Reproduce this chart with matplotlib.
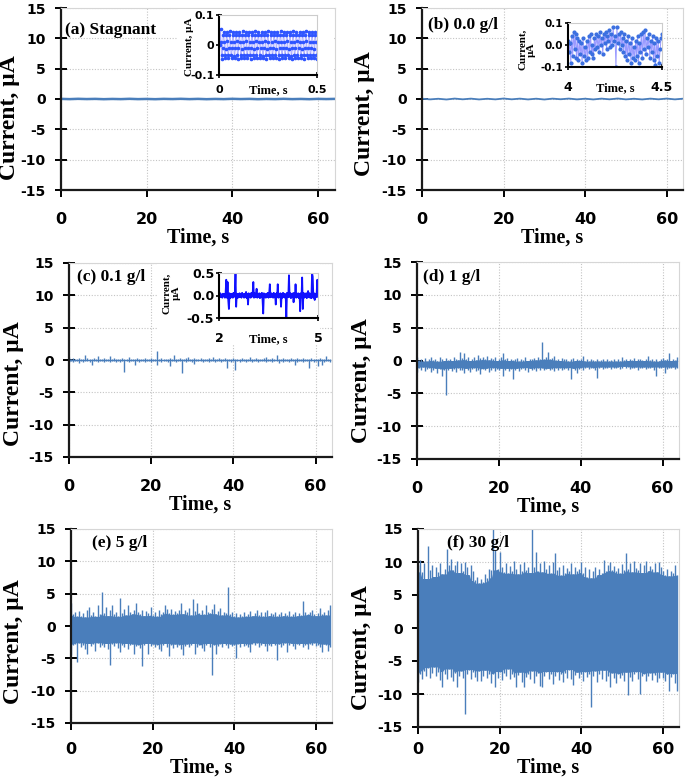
import numpy as np
import matplotlib
matplotlib.use('Agg')
import matplotlib.pyplot as plt
from matplotlib.patches import Rectangle

plt.rcParams['axes.unicode_minus'] = False

W, H = 685, 781

# ---- data ----
panel_titles = ['(a) Stagnant', '(b) 0.0 g/l', '(c) 0.1 g/l', '(d) 1 g/l', '(e) 5 g/l', '(f) 30 g/l']

# (a), (b): flat traces, one value every 2 s from 0 to 64 s
current_a = [0.02, -0.02, 0.03, -0.01, 0.02, -0.03, 0.01, -0.02, 0.03, -0.02, 0.01,
             -0.03, 0.02, -0.01, 0.03, -0.02, 0.02, -0.03, 0.01, -0.02, 0.03, -0.01,
             0.02, -0.03, 0.01, -0.02, 0.03, -0.02, 0.01, -0.03, 0.02, -0.01, 0.02]
current_b = [0.05, -0.06, 0.04, -0.08, 0.07, -0.05, 0.06, -0.07, 0.04, -0.06, 0.08,
             -0.05, 0.06, -0.07, 0.05, -0.08, 0.06, -0.04, 0.07, -0.06, 0.05, -0.07,
             0.06, -0.05, 0.08, -0.06, 0.04, -0.07, 0.06, -0.05, 0.07, -0.06, 0.05]

# (c)-(f): local max / min of the trace every 0.5 s
upper_c = [0.4, 0.2, 0.3, 0.1, 0.2, 0.3, 0.1, 0.2, 0.7, 0.3, 0.1, 0.2, 0.3, 0.1, 0.6, 0.2,
           0.1, 0.3, 0.2, 0.1, 0.6, 0.2, 0.3, 0.1, 0.2, 0.1, 0.3, 0.2, 0.1, 0.5, 0.2, 0.1,
           0.2, 0.3, 0.1, 0.2, 0.1, 0.3, 0.2, 0.1, 0.3, 0.2, 0.1, 1.4, 0.2, 0.3, 0.1, 0.2,
           0.1, 0.3, 0.2, 0.8, 0.1, 0.2, 0.3, 0.1, 0.2, 0.3, 0.5, 0.1, 0.2, 0.3, 0.1, 0.2,
           0.3, 0.1, 0.2, 0.1, 0.3, 0.2, 0.5, 0.1, 0.2, 0.3, 0.1, 0.2, 0.3, 0.1, 0.2, 0.1,
           0.3, 0.2, 0.1, 0.2, 0.3, 0.1, 0.2, 0.1, 0.5, 0.2, 0.1, 0.3, 0.2, 0.1, 0.2, 0.3,
           0.5, 0.1, 0.2, 0.3, 0.1, 0.8, 0.2, 0.1, 0.3, 0.2, 0.1, 0.2, 0.3, 0.1, 0.2, 0.3,
           0.1, 0.2, 0.3, 0.1, 0.2, 0.1, 0.3, 0.2, 0.1, 0.2, 0.3, 0.1, 0.2, 0.6, 0.1, 0.2]
lower_c = [-0.3, -0.2, -0.3, -0.1, -0.2, -0.4, -0.2, -0.3, -0.1, -0.2, -0.3, -0.8, -0.2, -0.1, -0.3, -0.2,
           -0.2, -0.3, -0.1, -0.2, -0.3, -0.2, -0.1, -0.3, -0.2, -0.3, -0.1, -1.8, -0.2, -0.3, -0.1, -0.2,
           -0.7, -0.2, -0.3, -0.1, -0.2, -0.3, -0.2, -0.1, -0.3, -0.2, -0.1, -0.8, -0.2, -0.3, -0.1, -0.2,
           -0.3, -0.9, -0.2, -0.1, -0.3, -0.2, -0.1, -2.0, -0.2, -0.3, -0.1, -0.2, -0.3, -0.6, -0.2, -0.1,
           -0.2, -0.3, -0.1, -0.2, -0.3, -0.2, -0.1, -0.3, -0.2, -0.1, -0.3, -0.2, -0.1, -1.3, -0.2, -0.3,
           -0.1, -1.5, -0.2, -0.3, -0.1, -0.2, -0.3, -0.2, -0.1, -0.3, -0.2, -0.1, -0.3, -0.2, -0.1, -0.2,
           -0.3, -0.2, -0.1, -0.3, -0.2, -0.1, -0.4, -0.2, -0.3, -0.1, -0.2, -0.3, -0.1, -0.2, -0.7, -0.3,
           -0.2, -0.1, -0.3, -0.2, -0.1, -1.3, -0.2, -0.3, -0.1, -0.9, -0.2, -0.8, -0.3, -0.1, -0.2, -0.3]

upper_d = [0.5, 0.1, 0.3, -0.1, 0.4, 0.0, 0.2, 0.5, 0.1, 0.3, -0.1, 0.6, 0.2, 0.0, 0.4, 0.1,
           0.3, 0.0, 0.5, 0.2, 0.1, 1.3, 0.4, 1.1, 0.2, 0.5, 0.0, 0.3, 0.6, 0.1, 0.8, 0.4,
           0.5, 0.2, 0.7, 0.1, 0.4, 0.3, 0.6, 0.0, 0.3, 0.5, 1.2, 0.2, 0.4, 0.0, 0.3, 0.1,
           0.2, 0.4, -0.1, 0.3, 0.1, 0.5, 0.0, 0.3, 0.2, 0.4, 0.1, 0.6, 0.2, 2.8, 0.3, 0.5,
           1.3, 0.2, 0.4, 0.7, 0.1, 0.3, 0.0, 0.4, 0.2, 0.3, -0.1, 0.2, 0.4, 0.0, 0.3, 0.1,
           0.2, 0.7, 0.0, 0.2, -0.1, 0.3, 0.1, 0.0, 0.2, -0.1, 0.1, 0.3, 0.0, 0.2, -0.1, 0.1,
           0.2, 0.0, 0.3, -0.1, 0.5, 0.1, 0.2, 0.0, 0.3, 0.1, 0.4, 0.0, 0.2, 0.3, 0.1, 0.0,
           0.3, 0.7, 0.1, 0.2, -0.1, 0.3, 0.0, 0.2, 0.4, 0.1, 0.2, 1.1, 0.0, 0.3, 0.1, 0.5]
lower_d = [-1.8, -1.2, -1.5, -1.0, -1.6, -1.3, -1.1, -1.7, -1.4, -1.2, -1.9, -1.3, -2.3, -1.5, -5.3, -1.4,
           -1.2, -1.6, -1.3, -1.8, -1.1, -1.5, -1.4, -1.9, -1.2, -1.5, -1.7, -1.3, -1.1, -1.6, -1.4, -2.0,
           -1.3, -1.5, -1.2, -1.7, -1.4, -1.1, -1.6, -1.3, -1.5, -1.2, -2.3, -1.4, -1.2, -1.6, -1.3, -2.8,
           -1.4, -1.2, -1.6, -1.3, -1.1, -1.5, -1.7, -1.2, -1.4, -1.3, -1.6, -1.1, -1.5, -1.2, -1.4, -1.3,
           -1.2, -1.5, -1.3, -1.6, -1.1, -1.4, -1.2, -1.5, -1.3, -1.1, -1.4, -2.8, -1.2, -1.5, -1.9, -1.3,
           -1.1, -1.4, -1.2, -1.0, -1.3, -1.2, -1.1, -1.4, -2.6, -1.2, -1.0, -1.3, -1.1, -1.2, -1.0, -1.3,
           -1.1, -1.2, -1.0, -1.3, -1.1, -0.9, -1.2, -1.0, -1.3, -1.1, -1.2, -1.0, -1.4, -1.1, -1.2, -1.0,
           -1.3, -1.1, -1.2, -1.0, -1.4, -2.3, -1.1, -1.2, -1.0, -1.9, -1.3, -1.1, -1.2, -1.0, -1.3, -1.1]

upper_e = [3.5, 1.8, 2.2, 1.5, 2.3, 1.6, 2.0, 1.4, 2.5, 3.0, 1.7, 2.2, 1.5, 3.2, 1.9, 5.3,
           2.0, 3.0, 1.6, 2.4, 3.2, 1.8, 2.1, 1.5, 4.4, 2.0, 2.6, 1.7, 3.2, 2.2, 1.9, 2.5,
           3.5, 2.1, 1.8, 2.5, 1.6, 2.3, 2.0, 3.0, 1.7, 2.2, 1.5, 2.4, 1.9, 2.1, 3.2, 2.6,
           2.0, 2.7, 1.8, 2.3, 2.0, 2.5, 3.5, 1.9, 2.4, 2.1, 2.8, 1.7, 4.2, 2.3, 3.6, 2.0,
           2.5, 1.8, 3.2, 2.2, 2.0, 2.6, 3.4, 1.9, 2.3, 2.8, 1.7, 2.2, 2.0, 6.0, 1.8, 2.1,
           1.5, 2.0, 1.4, 1.9, 1.6, 2.2, 1.5, 1.8, 2.3, 1.6, 2.0, 2.4, 1.7, 2.1, 1.5, 2.2,
           2.4, 1.6, 2.0, 1.8, 2.1, 1.5, 1.9, 2.2, 1.6, 2.0, 1.7, 2.3, 1.5, 1.9, 2.1, 1.6,
           2.0, 1.7, 3.9, 2.1, 1.8, 2.2, 2.5, 1.9, 1.6, 2.0, 2.8, 1.8, 2.2, 1.7, 2.4, 3.2]
lower_e = [-4.5, -3.0, -2.8, -5.5, -2.6, -3.2, -2.9, -3.5, -4.3, -2.7, -3.1, -2.8, -3.8, -2.6, -3.3, -2.9,
           -3.2, -2.7, -3.5, -6.0, -2.8, -3.1, -2.6, -3.4, -4.0, -2.9, -3.2, -2.7, -3.6, -3.0, -2.8, -4.3,
           -3.1, -2.9, -3.4, -6.2, -3.0, -2.7, -4.3, -3.1, -2.8, -3.3, -2.9, -3.6, -3.8, -3.0, -2.7, -3.2,
           -4.7, -3.0, -3.4, -2.8, -3.2, -2.9, -3.5, -4.5, -3.1, -2.8, -3.3, -3.0, -2.7, -4.3, -3.2, -2.9,
           -3.4, -3.8, -3.0, -2.7, -3.3, -7.5, -2.9, -4.3, -3.1, -2.8, -3.2, -2.7, -3.0, -3.4, -2.8, -3.1,
           -3.0, -5.0, -2.8, -3.2, -2.7, -3.1, -2.9, -3.3, -4.0, -2.8, -3.0, -2.6, -3.2, -2.9, -2.7, -3.1,
           -3.8, -2.9, -3.1, -2.7, -3.0, -5.2, -2.8, -3.2, -2.9, -2.6, -4.0, -3.0, -2.7, -3.1, -3.5, -2.8,
           -3.0, -2.7, -3.2, -2.9, -3.5, -2.8, -3.0, -2.6, -3.1, -2.9, -3.3, -4.0, -2.8, -3.0, -3.8, -3.2]

upper_f = [9.5, 10.3, 8.5, 9.8, 7.5, 12.5, 8.8, 9.5, 7.8, 9.2, 8.5, 9.8, 8.2, 9.0, 12.0, 9.6,
           10.5, 8.8, 9.6, 10.2, 8.4, 9.8, 8.6, 10.0, 9.2, 8.1, 9.5, 8.7, 7.2, 7.8, 6.8, 7.5,
           7.0, 8.2, 7.6, 9.0, 8.8, 15.0, 11.8, 8.9, 11.5, 9.2, 8.5, 9.8, 8.3, 9.4, 8.6, 10.1,
           9.0, 8.2, 9.7, 8.6, 10.0, 8.8, 9.3, 8.4, 15.0, 9.2, 11.5, 8.7, 9.8, 8.5, 10.2, 8.9,
           9.5, 8.3, 10.0, 11.3, 8.8, 9.2, 8.0, 9.6, 8.4, 9.1, 8.7, 9.8, 8.2, 9.3, 8.6, 9.0,
           10.0, 8.4, 9.2, 7.8, 8.9, 7.6, 8.6, 9.3, 8.1, 9.0, 8.4, 10.3, 8.7, 9.5, 10.0, 8.8,
           9.4, 8.6, 9.1, 8.3, 9.7, 8.8, 11.3, 9.0, 9.8, 8.5, 10.2, 9.1, 8.8, 9.9, 8.4, 9.6,
           10.1, 8.7, 9.4, 8.9, 9.8, 8.5, 10.0, 9.2, 8.6, 8.1, 9.0, 7.9, 8.7, 8.3, 9.6, 8.0]
lower_f = [-8.2, -7.0, -7.8, -6.5, -7.2, -6.0, -7.5, -6.8, -5.9, -7.3, -6.6, -7.9, -9.0, -6.9, -7.7, -6.2,
           -7.4, -8.0, -6.8, -9.0, -7.2, -6.5, -7.6, -13.0, -7.0, -6.3, -7.8, -6.7, -7.4, -8.0, -6.5, -8.1,
           -7.2, -6.4, -7.6, -6.9, -8.3, -7.0, -9.0, -7.5, -6.6, -7.9, -6.8, -7.3, -6.2, -7.7, -6.9, -7.4,
           -9.0, -7.1, -6.7, -8.2, -9.0, -7.4, -6.9, -7.8, -6.5, -8.4, -7.2, -6.8, -8.8, -9.0, -7.3, -6.6,
           -7.7, -6.9, -8.5, -7.2, -6.6, -7.9, -7.0, -8.2, -6.8, -7.5, -6.3, -7.8, -8.6, -7.1, -6.7, -7.6,
           -7.0, -8.0, -6.6, -7.4, -6.9, -12.0, -7.3, -6.5, -8.2, -7.0, -7.7, -6.4, -8.0, -7.2, -9.0, -6.8,
           -7.5, -8.3, -6.9, -7.6, -7.1, -8.0, -6.7, -10.2, -7.4, -8.1, -7.0, -6.6, -7.8, -10.0, -7.2, -6.9,
           -8.0, -7.3, -6.8, -7.9, -7.1, -8.2, -7.6, -6.7, -7.5, -8.1, -7.0, -9.5, -7.4, -6.9, -8.3, -9.5]

# inset (a): 0 - 0.5 s
inset_a_current = [0.000, 0.055, 0.010, -0.035, -0.048, -0.010, 0.035,
                   0.045, 0.010, -0.035, -0.045, -0.012, 0.032,
                   0.045, 0.012, -0.032, -0.045, -0.010, 0.035,
                   0.048, 0.010, -0.035, -0.045, -0.010, 0.035,
                   0.045, 0.010, -0.038, -0.045, -0.010, 0.032,
                   0.045, 0.012, -0.035, -0.048, -0.010, 0.035,
                   0.045, 0.010, -0.032, -0.045, -0.012, 0.035,
                   0.048, 0.010, -0.035, -0.045, -0.010, 0.032,
                   0.045, 0.012, -0.035, -0.045, -0.010, 0.035,
                   0.045, 0.010, -0.035, -0.048, -0.010, 0.035,
                   0.045, 0.010, -0.032, -0.045, -0.012, 0.035,
                   0.048, 0.012, -0.035, -0.045, -0.010, 0.032,
                   0.045, 0.010, -0.035, -0.045, -0.010, 0.035,
                   0.045, 0.010, -0.038, -0.045, -0.010, 0.035,
                   0.045, 0.012, -0.035, -0.048, -0.012, 0.032,
                   0.048, 0.010, -0.032, -0.045, -0.010, 0.035,
                   0.045, 0.010, -0.035, -0.045, -0.010, 0.035,
                   0.045, 0.012, -0.035, -0.045, -0.012, 0.032,
                   0.045, 0.010, -0.035, -0.048, -0.010, 0.035,
                   0.048, 0.010, -0.032, -0.045, -0.010, 0.035,
                   0.045, 0.010, -0.035, -0.045, -0.010, 0.032,
                   0.045, 0.012, -0.035, -0.045, -0.012, 0.035,
                   0.045, 0.010, -0.038, -0.048, -0.010, 0.035,
                   0.048, 0.010, -0.035, -0.045, -0.010, 0.032,
                   0.045, 0.012, -0.032, -0.045, -0.010, 0.035,
                   0.045, 0.010, -0.035, -0.045, -0.012, 0.035,
                   0.045, 0.010, -0.035, -0.048, -0.010, 0.032,
                   0.048, 0.012, -0.035, -0.045, -0.010, 0.035,
                   0.045, 0.010, -0.032, -0.045, -0.010, 0.035,
                   0.045, 0.010, -0.035, -0.045, -0.012, 0.032,
                   0.045, 0.010, -0.035, -0.048]

# inset (b): 4.0 - 4.5 s
inset_b_current = [0.02, -0.03, 0.01, -0.08, 0.04, -0.05, 0.06, -0.02, 0.05, -0.06,
                   0.03, -0.07, 0.02, -0.04, 0.01, -0.08, 0.03, -0.05, -0.01, -0.07,
                   0.02, -0.06, 0.04, -0.03, 0.05, -0.04, 0.00, -0.06, 0.03, -0.02,
                   0.05, -0.01, 0.04, -0.03, 0.06, 0.00, 0.03, -0.04, 0.05, 0.01,
                   0.06, -0.02, 0.04, 0.02, 0.07, -0.01, 0.05, 0.00, 0.08, 0.02,
                   0.04, -0.10, 0.08, 0.01, 0.05, -0.02, 0.06, 0.00, 0.03, -0.03,
                   0.05, -0.05, 0.02, -0.07, 0.04, -0.04, 0.01, -0.08, 0.03, -0.06,
                   -0.01, -0.07, 0.02, -0.05, 0.04, -0.08, 0.01, -0.03, 0.05, -0.06,
                   0.06, -0.02, 0.07, -0.04, 0.03, -0.01, 0.05, -0.06, 0.02, -0.03,
                   0.04, -0.07, 0.01, -0.09, 0.03, -0.05, 0.02, -0.08, -0.02, 0.03, 0.05]

# inset (c): 2 - 5 s
inset_c_current = [0.03, -0.04, 0.05, -0.03, 0.02, -0.05, 0.04, -0.02, 0.03, -0.05,
                   0.06, 0.35, -0.05, 0.30, -0.10, -0.30, 0.05, -0.06, 0.03, -0.04,
                   0.04, -0.05, 0.06, -0.03, 0.05, 0.50, -0.25, 0.04, -0.06, 0.03,
                   -0.04, 0.05, -0.03, 0.04, -0.05, 0.06, -0.02, 0.03, -0.05, 0.04,
                   -0.03, 0.08, -0.06, 0.04, -0.20, 0.05, -0.04, 0.03, -0.05, 0.06,
                   -0.03, 0.04, 0.30, -0.05, 0.05, -0.04, 0.03, 0.15, -0.05, 0.04,
                   -0.03, 0.05, -0.06, 0.04, -0.04, 0.06, -0.10, -0.40, 0.05, -0.04,
                   0.03, -0.05, 0.04, -0.03, 0.06, -0.05, 0.04, 0.25, -0.04, 0.05,
                   -0.03, 0.04, -0.05, 0.06, -0.04, 0.03, -0.20, 0.05, -0.04, 0.25,
                   -0.05, 0.04, -0.03, 0.05, -0.25, 0.04, -0.05, 0.06, -0.03, 0.04,
                   -0.05, 0.03, -0.50, 0.06, 0.05, -0.04, 0.45, -0.03, 0.05, -0.06,
                   0.04, -0.03, 0.05, -0.15, 0.06, -0.04, 0.25, -0.05, 0.04, -0.03,
                   0.05, -0.06, 0.04, -0.35, 0.05, -0.04, 0.40, -0.30, 0.06, -0.05,
                   0.04, -0.03, 0.05, -0.06, 0.03, 0.10, -0.04, 0.05, -0.05, 0.04,
                   -0.06, 0.50, 0.42, -0.05, 0.05, -0.10, 0.04, -0.04, 0.06, 0.35, -0.03]

# ---- drawing ----
BLUE = '#4a7ebb'
SERIF = 'Liberation Serif'
SANS = 'DejaVu Sans'


def px(x0, y0, x1, y1):
    return [x0 / W, 1 - y1 / H, (x1 - x0) / W, (y1 - y0) / H]


def core(vals, fn, k=2):
    # dense part of the trace: the envelope's extreme over a few neighbours
    v = np.pad(np.asarray(vals, float), k, mode='edge')
    return fn.reduce([v[i:i + len(vals)] for i in range(2 * k + 1)])


def style_main(ax, title, tx, ty, ylx, yly, tpad):
    ax.set_xlim(0, 64)
    ax.set_ylim(-15, 15)
    ax.set_xticks([0, 20, 40, 60])
    ax.set_yticks(range(-15, 16, 5))
    ax.grid(True, color='#c4c4c4', linestyle=(0, (1, 1.5)), linewidth=0.8)
    ax.set_axisbelow(True)
    for s in ['left', 'bottom']:
        ax.spines[s].set_linewidth(1.6)
        ax.spines[s].set_color('#1a1a1a')
    for s in ['top', 'right']:
        ax.spines[s].set_linewidth(0.8)
        ax.spines[s].set_color('#d6d6d6')
    ax.tick_params(axis='x', direction='out', length=5, width=1.4, pad=tpad, labelsize=11.5)
    ax.tick_params(axis='y', direction='inout', length=8, width=1.4, pad=7, labelsize=10)
    ax.tick_params(top=False, right=False)
    for lab in ax.get_xticklabels() + ax.get_yticklabels():
        lab.set_fontfamily(SANS)
        lab.set_fontweight('bold')
    ax.set_xlabel('Time, s', family=SERIF, fontweight='bold', fontsize=14.5, labelpad=0)
    ax.set_ylabel('Current, µA', family=SERIF, fontweight='bold', fontsize=17)
    ax.yaxis.set_label_coords(ylx, yly)
    ax.text(tx, ty, title, transform=ax.transAxes, family=SERIF, fontweight='bold',
            fontsize=12.5, ha='left', va='center')


def style_inset(ax, xlim, xticks, xlabels, ylim, yticks, ylabels, xsize, ysize,
                xpad, ylabel, ylx, yly, xly):
    ax.set_xlim(*xlim)
    ax.set_ylim(*ylim)
    ax.set_xticks(xticks)
    ax.set_xticklabels(xlabels)
    ax.set_yticks(yticks)
    ax.set_yticklabels(ylabels)
    ax.set_facecolor('white')
    for s in ['left', 'bottom']:
        ax.spines[s].set_linewidth(1.5)
        ax.spines[s].set_color('black')
    for s in ['top', 'right']:
        ax.spines[s].set_linewidth(0.8)
        ax.spines[s].set_color('#cccccc')
    ax.tick_params(axis='x', direction='inout', length=4, width=1.2, pad=xpad, labelsize=xsize)
    ax.tick_params(axis='y', direction='inout', length=4, width=1.2, pad=1.5, labelsize=ysize)
    for lab in ax.get_xticklabels() + ax.get_yticklabels():
        lab.set_fontfamily(SANS)
        lab.set_fontweight('bold')
    ax.set_xlabel('Time, s', family=SERIF, fontweight='bold', fontsize=9)
    ax.xaxis.set_label_coords(0.5, xly)
    ax.set_ylabel(ylabel, family=SERIF, fontweight='bold', fontsize=8, linespacing=1.0)
    ax.yaxis.set_label_coords(ylx, yly)


fig = plt.figure(figsize=(W / 100, H / 100), dpi=100)

rects = [px(61, 8, 335, 190), px(422, 8, 683, 190),
         px(69, 263, 332, 457), px(417, 262, 679, 459),
         px(71, 529, 332, 723), px(418, 529, 679, 727)]
title_pos = [(0.015, 0.878), (0.023, 0.906), (0.03, 0.93),
             (0.023, 0.924), (0.08, 0.927), (0.11, 0.93)]
ylab_pos = [(-0.15, 0.40), (-0.18, 0.42), (-0.17, 0.38),
            (-0.17, 0.40), (-0.18, 0.42), (-0.175, 0.40)]
tick_pad = [11, 11, 11, 11, 9, 6]

axes = [fig.add_axes(r) for r in rects]
axes[0].plot(np.arange(len(current_a)) * 2.0, current_a, color=BLUE, lw=1.8)
axes[1].plot(np.arange(len(current_b)) * 2.0, current_b, color=BLUE, lw=1.3)
for ax, (up, lo) in zip(axes[2:], [(upper_c, lower_c), (upper_d, lower_d),
                                    (upper_e, lower_e), (upper_f, lower_f)]):
    t = np.arange(len(up)) * 0.5
    ax.fill_between(t, core(lo, np.maximum), core(up, np.minimum), color=BLUE, linewidth=0)
    ax.vlines(t, lo, up, color=BLUE, linewidth=1.0)

for ax, title, (tx, ty), (lx, ly), tp in zip(axes, panel_titles, title_pos, ylab_pos, tick_pad):
    style_main(ax, title, tx, ty, lx, ly, tp)

# white boxes behind the insets and their labels
for x0, y0, x1, y1 in [(178, 9, 334, 96), (508, 9, 663, 97), (157, 264, 320, 345)]:
    fig.add_artist(Rectangle((x0 / W, 1 - y1 / H), (x1 - x0) / W, (y1 - y0) / H,
                             transform=fig.transFigure, facecolor='white',
                             edgecolor='none', zorder=1))

ins_a = fig.add_axes(px(219, 15, 317, 75))
ins_a.set_zorder(2)
ins_a.plot(np.linspace(0.005, 0.5, len(inset_a_current)), inset_a_current, color='#a8a8ff',
           lw=0.6, marker='o', ms=1.6, mfc='#2f55ff', mec='#2f55ff')
style_inset(ins_a, (0, 0.5), [0, 0.5], ['0', '0.5'], (-0.1, 0.1), [-0.1, 0, 0.1],
            ['-0.1', '0', '0.1'], 8, 8, 5, 'Current, µA', -0.26, 0.47, -0.15)

ins_b = fig.add_axes(px(568, 23, 662, 67))
ins_b.set_zorder(2)
ins_b.plot(np.linspace(4.0, 4.5, len(inset_b_current)), inset_b_current, color='#9a9aff',
           lw=0.7, marker='o', ms=2.0, mfc='#3b6fe0', mec='#3b6fe0')
style_inset(ins_b, (4.0, 4.5), [4.0, 4.5], ['4', '4.5'], (-0.1, 0.1), [-0.1, 0.0, 0.1],
            ['-0.1', '0.0', '0.1'], 9, 7.5, 8, 'Current,\nµA', -0.34, 0.40, -0.34)

ins_c = fig.add_axes(px(219, 273, 318, 318))
ins_c.set_zorder(2)
ins_c.plot(np.linspace(2.0, 5.0, len(inset_c_current)), inset_c_current, color='#1010ff', lw=1.3)
style_inset(ins_c, (2, 5), [2, 5], ['2', '5'], (-0.5, 0.5), [-0.5, 0.0, 0.5],
            ['-0.5', '0.0', '0.5'], 9, 9, 8, 'Current,\nµA', -0.39, 0.55, -0.33)

fig.savefig('out.png', dpi=100)
